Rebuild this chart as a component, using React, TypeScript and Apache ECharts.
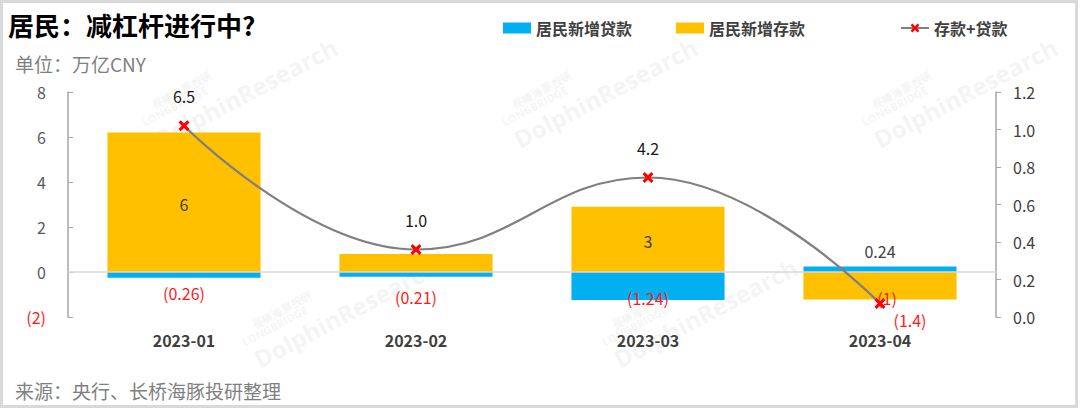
import React, { useEffect, useRef } from "react";
import * as echarts from "echarts";

const categories = ["2023-01", "2023-02", "2023-03", "2023-04"];
const loans = [-0.26, -0.21, -1.24, 0.24];
const deposits = [6.2, 0.8, 2.9, -1.22];
const totals = [6.5, 1.0, 4.2, -1.4];
const depositLabels = ["6", "", "3", "(1)"];
const loanLabels = ["(0.26)", "(0.21)", "(1.24)", "0.24"];
const totalLabels = ["6.5", "1.0", "4.2", "(1.4)"];

const FONT = "'Noto Sans CJK SC', 'Noto Sans', sans-serif";
const RED = "#ff1a1a";
const DARK = "#404040";
const CROSS = "path://M2,0 L5,3 L8,0 L10,2 L7,5 L10,8 L8,10 L5,7 L2,10 L0,8 L3,5 L0,2 Z";

const fmtNeg = (v: number) => (v < 0 ? `(${Math.abs(v)})` : `${v}`);

export default function App() {
  const ref = useRef<HTMLDivElement>(null);
  useEffect(() => {
    document.body.style.margin = "0";
    const chart = echarts.init(ref.current!, undefined, { renderer: "svg" });

    const loanOffsets = [[0, 18], [0, 23], [0, 12], [0, -3]];
    const loanData = loans.map((v, i) => ({
      value: v,
      label: {
        show: true,
        formatter: loanLabels[i],
        position: i === 3 ? "top" : "inside",
        distance: 5,
        offset: loanOffsets[i],
        color: v < 0 ? RED : DARK,
        fontSize: 16,
        fontFamily: FONT,
      },
    }));
    const depOffsets = [[0, 2], [0, 0], [0, 2], [7, 12]];
    const depositData = deposits.map((v, i) => ({
      value: v,
      label: {
        show: depositLabels[i] !== "",
        formatter: depositLabels[i],
        position: "inside",
        offset: depOffsets[i],
        color: v < 0 ? RED : DARK,
        fontSize: 16,
        fontFamily: FONT,
      },
    }));
    const totalData = totals.map((v, i) => ({
      value: v,
      label: {
        show: true,
        formatter: totalLabels[i],
        position: v < 0 ? "bottom" : "top",
        distance: v < 0 ? 3 : 16,
        offset: v < 0 ? [30, 0] : [0, 0],
        color: v < 0 ? RED : "#1a1a1a",
        fontSize: 16,
        fontFamily: FONT,
      },
    }));

    const wm = (x: number, y: number, size: number, text: string) => ({
      type: "text",
      x,
      y,
      rotation: (28 * Math.PI) / 180,
      z: -10,
      silent: true,
      style: {
        text,
        fontSize: size,
        fontFamily: "'Open Sans', sans-serif",
        fill: "rgba(200,200,200,0.2)",
        fontWeight: "bold",
      },
    });

    const legendText = { fontSize: 16, color: DARK, fontFamily: FONT, fontWeight: "bold" };
    const mkLegend = (left: number, name: string, icon?: string) => ({
      top: 15,
      left,
      itemWidth: 28,
      itemHeight: 11,
      itemGap: 6,
      textStyle: legendText,
      data: [icon ? { name, icon } : { name }],
    });

    chart.setOption({
      animation: false,
      backgroundColor: "#ffffff",
      textStyle: { fontFamily: FONT },
      title: [
        {
          text: "居民：减杠杆进行中?",
          left: 3,
          top: 6,
          textStyle: { fontSize: 26, fontWeight: "bold", color: "#000", fontFamily: FONT },
        },
        {
          text: "单位：万亿CNY",
          left: 10,
          top: 49,
          textStyle: { fontSize: 19, fontWeight: "normal", color: "#7f7f7f", fontFamily: FONT },
        },
        {
          text: "来源：央行、长桥海豚投研整理",
          left: 10,
          top: 376,
          textStyle: { fontSize: 19, fontWeight: "normal", color: "#7f7f7f", fontFamily: FONT },
        },
      ],
      legend: [
        mkLegend(498, "居民新增贷款", "rect"),
        mkLegend(671, "居民新增存款", "rect"),
        mkLegend(895, "存款+贷款"),
      ],
      graphic: [
        {
          type: "rect",
          silent: true,
          shape: { x: 1.5, y: 1.5, width: 1075, height: 405 },
          style: { fill: "none", stroke: "#d9d9d9", lineWidth: 3 },
        },
        wm(150, 100, 11, "長橋海豚投研"),
        wm(140, 118, 11, "LONGBRIDGE"),
        wm(150, 130, 24, "DolphinResearch"),
        wm(510, 100, 11, "長橋海豚投研"),
        wm(500, 118, 11, "LONGBRIDGE"),
        wm(510, 130, 24, "DolphinResearch"),
        wm(870, 100, 11, "長橋海豚投研"),
        wm(860, 118, 11, "LONGBRIDGE"),
        wm(870, 130, 24, "DolphinResearch"),
        wm(250, 320, 11, "長橋海豚投研"),
        wm(240, 338, 11, "LONGBRIDGE"),
        wm(250, 350, 24, "DolphinResearch"),
        wm(610, 320, 11, "長橋海豚投研"),
        wm(600, 338, 11, "LONGBRIDGE"),
        wm(610, 350, 24, "DolphinResearch"),
      ],
      grid: { left: 68, right: 84, top: 92, bottom: 93 },
      xAxis: {
        type: "category",
        data: categories,
        axisLine: { show: false, onZero: false },
        axisTick: { show: false },
        axisLabel: {
          fontSize: 16,
          fontWeight: "bold",
          color: DARK,
          margin: 15,
          fontFamily: FONT,
        },
      },
      yAxis: [
        {
          type: "value",
          min: -2,
          max: 8,
          interval: 2,
          splitLine: { show: false },
          axisLine: { show: true, lineStyle: { color: "#a6a6a6", width: 1.5 } },
          axisTick: { show: true, inside: true, length: 5, lineStyle: { color: "#a6a6a6" } },
          axisLabel: {
            fontSize: 16,
            margin: 22,
            fontFamily: FONT,
            formatter: (v: number) => (v < 0 ? `{neg|${fmtNeg(v)}}` : `${v}`),
            color: "#595959",
            rich: { neg: { color: RED, fontSize: 16, fontFamily: FONT } },
          },
        },
        {
          type: "value",
          min: 0,
          max: 1.2,
          interval: 0.2,
          position: "right",
          splitLine: { show: false },
          axisLine: { show: true, lineStyle: { color: "#a6a6a6", width: 1.5 } },
          axisTick: { show: true, length: 5, lineStyle: { color: "#a6a6a6" } },
          axisLabel: {
            fontSize: 16,
            margin: 17,
            color: DARK,
            fontFamily: FONT,
            formatter: (v: number) => v.toFixed(1),
          },
        },
      ],
      series: [
        {
          name: "居民新增贷款",
          type: "bar",
          stack: "total",
          barWidth: "66%",
          itemStyle: { color: "#00b0f0" },
          data: loanData,
          z: 2,
          markLine: {
            silent: true,
            symbol: "none",
            label: { show: false },
            lineStyle: { color: "#d9d9d9", type: "solid", width: 1.5 },
            data: [{ yAxis: 0 }],
          },
        },
        {
          name: "居民新增存款",
          type: "bar",
          stack: "total",
          barWidth: "66%",
          itemStyle: { color: "#ffc000" },
          data: depositData,
          z: 2,
        },
        {
          name: "存款+贷款",
          type: "line",
          smooth: 0.45,
          yAxisIndex: 0,
          symbol: CROSS,
          symbolSize: 11,
          lineStyle: { color: "#7f7f7f", width: 2.2 },
          itemStyle: { color: "#ff0000" },
          data: totalData,
          z: 5,
        },
      ],
    });
    return () => chart.dispose();
  }, []);
  return <div ref={ref} style={{ width: 1080, height: 410 }} />;
}
